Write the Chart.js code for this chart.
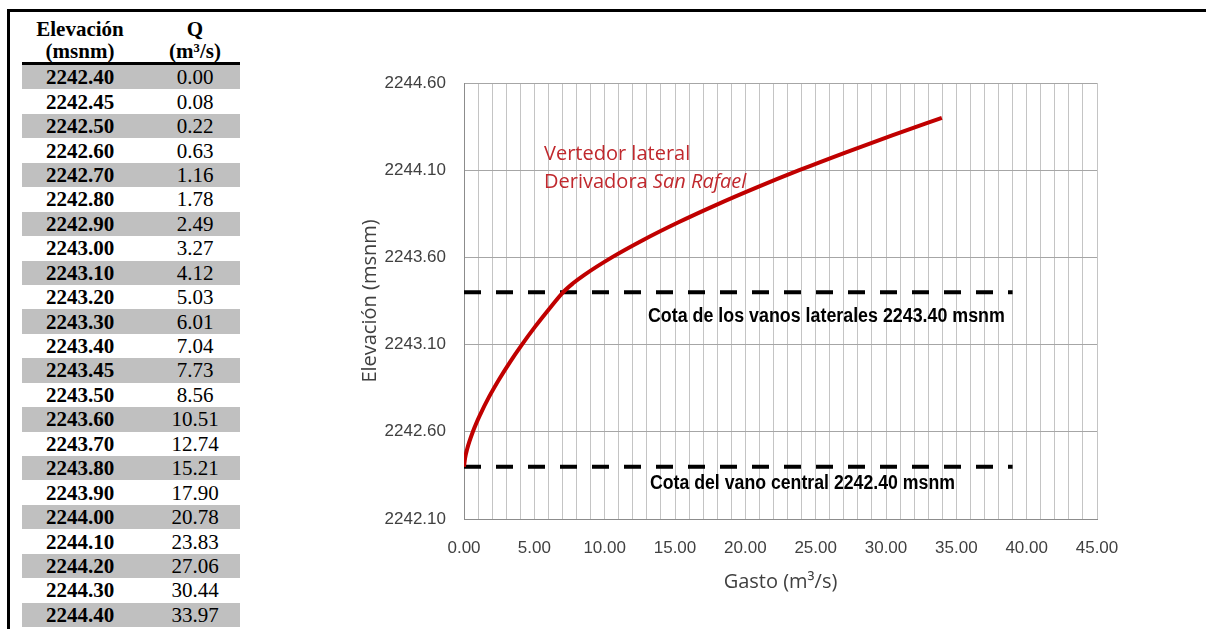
<!DOCTYPE html>
<html>
<head>
<meta charset="utf-8">
<style>
  body { margin: 0; background: #fff; width: 1206px; height: 629px; overflow: hidden; position: relative; }
  #frame { position: absolute; left: 7px; top: 9px; width: 1199px; height: 620px; border-top: 3px solid #000; border-left: 3px solid #000; }
  #tabla { position: absolute; left: 22px; top: 12px; border-collapse: collapse; font-family: "Liberation Serif", "Times New Roman", serif; font-size: 21px; color: #000; }
  #tabla th { font-weight: bold; line-height: 22px; padding: 6px 0 0 0; height: 44px; text-align: center; border-bottom: 3px solid #000; }
  #tabla td { height: 24.45px; padding: 0; line-height: 22px; text-align: center; }
  #tabla td.elev { font-weight: bold; width: 116px; }
  #tabla td.q { width: 102px; padding-left: 12px; box-sizing: border-box; }
  #tabla th.q { padding-left: 12px; }
  #tabla tr.gris td { background: #c0c0c0; }
  #chartContainer { position: absolute; left: 250px; top: 14px; width: 956px; height: 615px; }
</style>
</head>
<body>
<div id="frame"></div>
<table id="tabla">
  <thead>
    <tr><th>Elevación<br>(msnm)</th><th class="q">Q<br>(m³/s)</th></tr>
  </thead>
  <tbody id="tbody"></tbody>
</table>
<div id="chartContainer">
  <canvas id="myChart" width="956" height="615"></canvas>
</div>

<script src="https://cdn.jsdelivr.net/npm/chart.js"></script>
<script>
const elevaciones = [2242.40, 2242.45, 2242.50, 2242.60, 2242.70, 2242.80, 2242.90, 2243.00,
    2243.10, 2243.20, 2243.30, 2243.40, 2243.45, 2243.50, 2243.60, 2243.70, 2243.80, 2243.90,
    2244.00, 2244.10, 2244.20, 2244.30, 2244.40];
const gastos = [0.00, 0.08, 0.22, 0.63, 1.16, 1.78, 2.49, 3.27, 4.12, 5.03, 6.01, 7.04, 7.73,
    8.56, 10.51, 12.74, 15.21, 17.90, 20.78, 23.83, 27.06, 30.44, 33.97];

// cotas de los vanos (lineas discontinuas)
const cotaLaterales = 2243.40;
const cotaCentral = 2242.40;
const cotaGastoFin = 39;

// ticks
const yTicks = [2242.10, 2242.60, 2243.10, 2243.60, 2244.10, 2244.60];
const xLabels = [0, 5, 10, 15, 20, 25, 30, 35, 40, 45];

// tabla de la izquierda
const tbody = document.getElementById('tbody');
elevaciones.forEach((e, i) => {
    const tr = document.createElement('tr');
    if (i % 2 === 0) tr.className = 'gris';
    tr.innerHTML = '<td class="elev">' + e.toFixed(2) + '</td><td class="q">' + gastos[i].toFixed(2) + '</td>';
    tbody.appendChild(tr);
});

const curva = elevaciones.map((e, i) => ({ x: gastos[i], y: e }));

const textos = {
    id: 'textos',
    afterDatasetsDraw(chart) {
        const ctx = chart.ctx;
        const xs = chart.scales.x;
        const ys = chart.scales.y;
        ctx.save();
        ctx.textBaseline = 'alphabetic';
        ctx.textAlign = 'left';

        // rotulo en rojo
        ctx.fillStyle = '#c0282d';
        ctx.font = '20px "Open Sans", sans-serif';
        let px = xs.getPixelForValue(5.69);
        ctx.fillText('Vertedor lateral', px, ys.getPixelForValue(2244.16));
        const yb = ys.getPixelForValue(2244.00);
        ctx.fillText('Derivadora ', px, yb);
        const w = ctx.measureText('Derivadora ').width;
        ctx.font = 'italic 20px "Open Sans", sans-serif';
        ctx.fillText('San Rafael', px + w, yb);

        // cotas (letra estrecha)
        ctx.fillStyle = '#000';
        ctx.font = 'bold 20px "Liberation Sans", Arial, sans-serif';
        let x0 = xs.getPixelForValue(13.08);
        ctx.fillText('Cota de los vanos laterales 2243.40 msnm', x0, ys.getPixelForValue(2243.23),
            xs.getPixelForValue(38.45) - x0);
        x0 = xs.getPixelForValue(13.22);
        ctx.fillText('Cota del vano central 2242.40 msnm', x0, ys.getPixelForValue(2242.27),
            xs.getPixelForValue(34.9) - x0);
        ctx.restore();
    }
};

const ctx = document.getElementById('myChart').getContext('2d');
new Chart(ctx, {
    type: 'line',
    data: {
        datasets: [
            {
                label: 'Vertedor lateral',
                data: curva,
                borderColor: '#c00000',
                borderWidth: 4,
                pointRadius: 0,
                cubicInterpolationMode: 'monotone',
                fill: false
            },
            {
                label: 'Cota laterales',
                data: [{ x: 0, y: cotaLaterales }, { x: cotaGastoFin, y: cotaLaterales }],
                borderColor: '#000',
                borderWidth: 4,
                borderDash: [17, 15],
                pointRadius: 0
            },
            {
                label: 'Cota central',
                data: [{ x: 0, y: cotaCentral }, { x: cotaGastoFin, y: cotaCentral }],
                borderColor: '#000',
                borderWidth: 4,
                borderDash: [17, 15],
                pointRadius: 0
            }
        ]
    },
    options: {
        responsive: false,
        animation: false,
        layout: { padding: { left: 0, right: 109, top: 69, bottom: 0 } },
        plugins: {
            legend: { display: false },
            tooltip: { enabled: false }
        },
        scales: {
            x: {
                type: 'linear',
                min: 0,
                max: 45,
                grid: { color: '#c4c4c4', lineWidth: 1, drawTicks: false },
                border: { color: '#8c8c8c' },
                ticks: {
                    stepSize: 1,
                    autoSkip: false,
                    maxRotation: 0,
                    padding: 19,
                    color: '#404040',
                    font: { family: '"Liberation Sans", Arial, sans-serif', size: 17 },
                    callback: v => xLabels.includes(v) ? v.toFixed(2) : ''
                },
                title: {
                    display: true,
                    text: 'Gasto (m³/s)',
                    color: '#404040',
                    font: { family: '"Open Sans", sans-serif', size: 20 },
                    padding: { top: 0, bottom: 35 }
                },
                afterFit(scale) { scale.height = 110; }
            },
            y: {
                type: 'linear',
                min: 2242.10,
                max: 2244.60,
                grid: { color: '#a6a6a6', lineWidth: 1, drawTicks: false },
                border: { color: '#8c8c8c' },
                afterBuildTicks(scale) { scale.ticks = yTicks.map(v => ({ value: v })); },
                ticks: {
                    padding: 18,
                    color: '#404040',
                    font: { family: '"Liberation Sans", Arial, sans-serif', size: 17 },
                    callback: v => Number(v).toFixed(2)
                },
                title: {
                    display: true,
                    text: 'Elevación (msnm)',
                    color: '#404040',
                    font: { family: '"Open Sans", sans-serif', size: 20 },
                    padding: { top: 108, bottom: 0 }
                },
                afterFit(scale) { scale.width = 214; }
            }
        }
    },
    plugins: [textos]
});
</script>
</body>
</html>
